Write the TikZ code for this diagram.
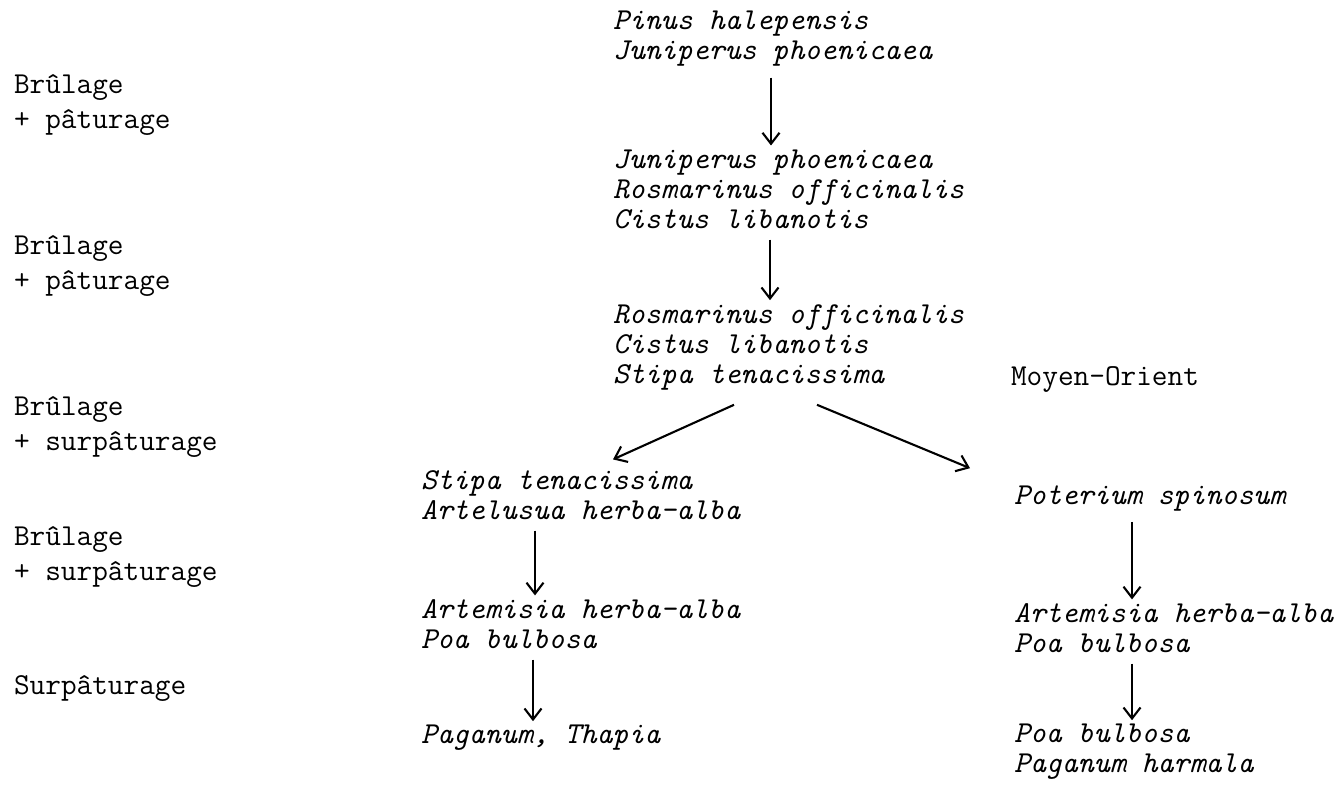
\documentclass[tikz,border=0pt]{standalone}
\usepackage{fontspec}
\usepackage{tikz}
\usetikzlibrary{arrows.meta}
\tikzset{>={Straight Barb[length=11pt,width=17pt]}}

\begin{document}
\begin{tikzpicture}[x=1pt, y=-1pt, line width=2.1pt,
	every node/.style={inner sep=0pt, anchor=west, align=left, font=\ttfamily\fontsize{30.4}{35}\selectfont},
	sp/.style={font=\ttfamily\itshape\fontsize{30.4}{30}\selectfont},
	flow/.style={->, shorten <=10pt, shorten >=3pt}]

		\useasboundingbox (0,0) rectangle (1337,786);

		% pratiques
		\node (lab1) at (13,105) {Brûlage\\+ pâturage};
		\node (lab2) at (13,266) {Brûlage\\+ pâturage};
		\node (lab3) at (13,427) {Brûlage\\+ surpâturage};
		\node (lab4) at (13,557) {Brûlage\\+ surpâturage};
		\node (lab5) at (13,688) {Surpâturage};

		% groupements
		\node[sp] (pin) at (612,39) {Pinus halepensis\\Juniperus phoenicaea};
		\node[sp] (jun) at (612,189) {Juniperus phoenicaea\\Rosmarinus officinalis\\Cistus libanotis};
		\node[sp] (ros) at (612,347) {Rosmarinus officinalis\\Cistus libanotis\\Stipa tenacissima};
		\node (orient) at (1010,379) {Moyen-Orient};

		\node[sp] (sti) at (420,495) {Stipa tenacissima\\Artelusua herba-alba};
		\node[sp] (art) at (420,624) {Artemisia herba-alba\\Poa bulbosa};
		\node[sp] (pag) at (420,738) {Paganum, Thapia};

		\node[sp] (pot) at (1013,498) {Poterium spinosum};
		\node[sp] (artb) at (1013,628) {Artemisia herba-alba\\Poa bulbosa};
		\node[sp] (poa) at (1013,752) {Poa bulbosa\\Paganum harmala};

		\draw[flow] ([xshift=159pt]pin.south west) -- ([xshift=159pt]jun.north west);
		\draw[flow] ([xshift=158pt]jun.south west) -- ([xshift=158pt]ros.north west);
		\draw[->] ([xshift=122pt,yshift=-14pt]ros.south west) -- ([xshift=193pt,yshift=10pt]sti.north west);
		\draw[->] ([xshift=205pt,yshift=-14pt]ros.south west) -- ([xshift=-43pt,yshift=16pt]pot.north west);

		\draw[flow] ([xshift=115pt]sti.south west) -- ([xshift=115pt]art.north west);
		\draw[flow] ([xshift=113pt]art.south west) -- ([xshift=113pt]pag.north west);
		\draw[flow] ([xshift=119pt]pot.south west) -- ([xshift=119pt]artb.north west);
		\draw[flow] ([xshift=119pt]artb.south west) -- ([xshift=119pt]poa.north west);
		\end{tikzpicture}
\end{document}
